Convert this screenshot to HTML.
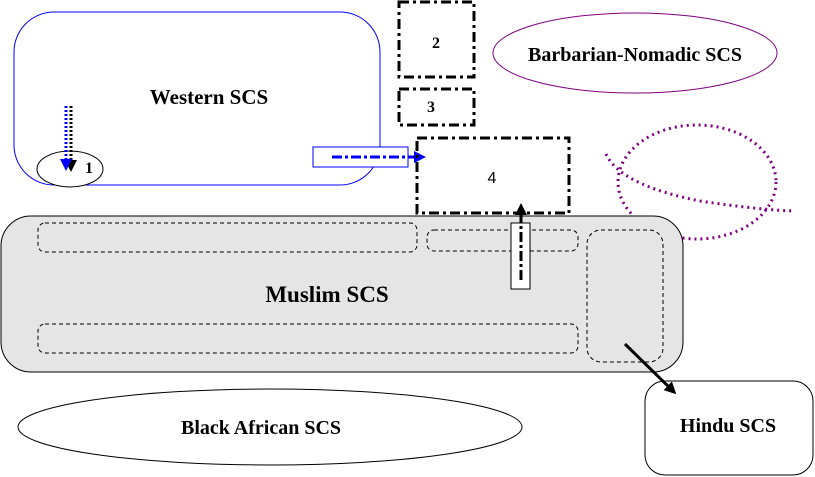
<!DOCTYPE html>
<html><head><style>body{margin:0;background:#fff}svg{display:block}</style></head><body>
<svg width="815" height="477" viewBox="0 0 815 477" xmlns="http://www.w3.org/2000/svg" font-family="Liberation Serif, serif" font-weight="bold">
<defs>
<marker id="bl" markerWidth="4" markerHeight="4" refX="2" refY="2" orient="auto" markerUnits="strokeWidth"><path d="M0,0 L4,2 L0,4z" fill="#00f"/></marker>
<marker id="bk" markerWidth="4" markerHeight="4" refX="2" refY="2" orient="auto" markerUnits="strokeWidth"><path d="M0,0 L4,2 L0,4z" fill="#000"/></marker>
</defs>
<rect x="14" y="12" width="366" height="173" rx="40" fill="none" stroke="#00f" stroke-width="1"/>
<text x="209" y="104" font-size="21" text-anchor="middle">Western SCS</text>
<ellipse cx="70" cy="169" rx="33" ry="18" fill="#fff" stroke="#000"/>
<text x="89" y="173" font-size="16" text-anchor="middle">1</text>
<line x1="71" y1="106" x2="71" y2="166" stroke="#000" stroke-width="3" stroke-dasharray="2,2" marker-end="url(#bk)"/>
<line x1="66" y1="106" x2="66" y2="165" stroke="#00f" stroke-width="3" stroke-dasharray="2,2" marker-end="url(#bl)"/>
<rect x="313" y="147" width="95" height="20" fill="#fff" stroke="#00f"/>
<line x1="332" y1="157" x2="420" y2="157" stroke="#00f" stroke-width="3" stroke-dasharray="10,3,3,3" marker-end="url(#bl)"/>
<g fill="none" stroke="#000" stroke-width="3" stroke-dasharray="10,4,3,4">
<rect x="399" y="2" width="75" height="75"/>
<rect x="399" y="89" width="75" height="36"/>
<rect x="417" y="138" width="152" height="75"/>
</g>
<text x="436" y="48" font-size="16" text-anchor="middle">2</text>
<text x="431" y="112" font-size="16" text-anchor="middle">3</text>
<text x="492" y="183" font-size="16" text-anchor="middle" font-weight="normal" font-family="Liberation Sans, sans-serif">4</text>
<ellipse cx="635" cy="53" rx="142" ry="40" fill="none" stroke="#800080"/>
<text x="635" y="61" font-size="20" text-anchor="middle">Barbarian-Nomadic SCS</text>
<g fill="none" stroke="#800080" stroke-width="3" stroke-dasharray="2,4">
<ellipse cx="697" cy="182" rx="79" ry="57"/>
<path d="M606,154 Q620,185 700,201 Q760,210 795,211"/>
</g>
<rect x="1" y="216" width="682" height="156" rx="30" fill="#e5e5e5" stroke="#000"/>
<g fill="none" stroke="#000" stroke-dasharray="4,3">
<rect x="38" y="223" width="379" height="29" rx="7"/>
<rect x="427" y="230" width="151" height="21" rx="7"/>
<rect x="587" y="230" width="76" height="132" rx="14"/>
<rect x="38" y="324" width="540" height="29" rx="7"/>
</g>
<text x="327" y="302" font-size="23" text-anchor="middle">Muslim SCS</text>
<rect x="511" y="223" width="19" height="66" fill="#fff" stroke="#000"/>
<line x1="521" y1="280" x2="521" y2="209" stroke="#000" stroke-width="3" stroke-dasharray="10,3,3,3" marker-end="url(#bk)"/>
<rect x="645" y="381" width="168" height="94" rx="20" fill="#fff" stroke="#000"/>
<text x="728" y="432" font-size="20" text-anchor="middle">Hindu SCS</text>
<line x1="625" y1="344" x2="672" y2="390" stroke="#000" stroke-width="3" marker-end="url(#bk)"/>
<ellipse cx="270" cy="427" rx="252" ry="38" fill="#fff" stroke="#000"/>
<text x="261" y="434" font-size="20" text-anchor="middle">Black African SCS</text>
</svg>
</body></html>
